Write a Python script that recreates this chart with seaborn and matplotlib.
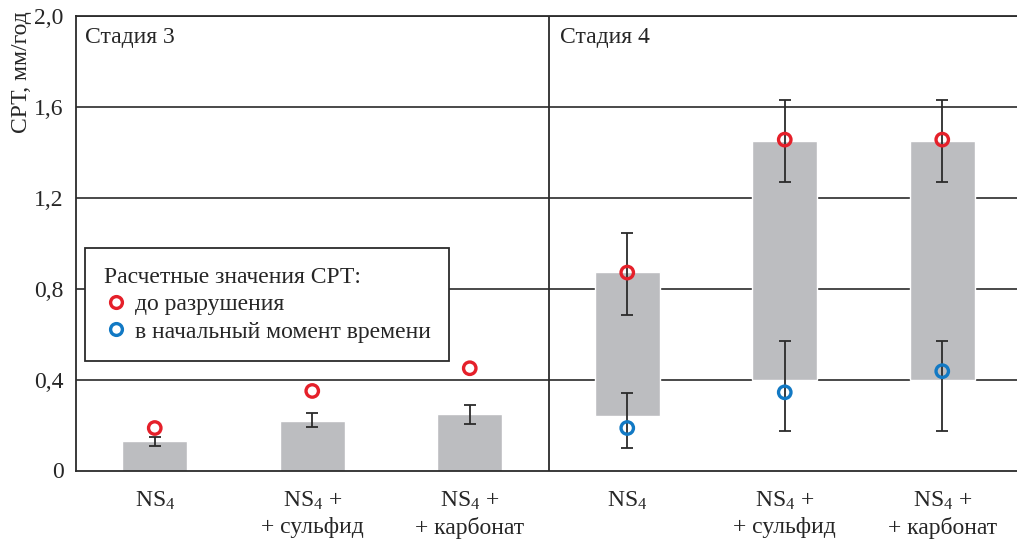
import numpy as np
import matplotlib
matplotlib.use("Agg")
import matplotlib.pyplot as plt
from matplotlib.lines import Line2D
import seaborn as sns

# categories (tick labels)
categorias = ["NS$_4$", "NS$_4$ +\n+ сульфид", "NS$_4$ +\n+ карбонат",
              "NS$_4$", "NS$_4$ +\n+ сульфид", "NS$_4$ +\n+ карбонат"]
estagios = ["Стадия 3", "Стадия 4"]

# bars: bottom and top (mm/year)
barra_base = [0, 0, 0, 0.24, 0.40, 0.40]
barra_topo = [0.13, 0.22, 0.247, 0.874, 1.448, 1.448]
# error bars of stage-3 bars
erro3_sup = [0.147, 0.255, 0.29]
erro3_inf = [0.106, 0.19, 0.206]

# calculated values: before failure (red) and at start (blue)
vermelho = [0.187, 0.35, 0.45, 0.871, 1.456, 1.456]
verm_sup = [np.nan, np.nan, np.nan, 1.046, 1.63, 1.63]
verm_inf = [np.nan, np.nan, np.nan, 0.686, 1.268, 1.268]
azul_x = [3, 4, 5]
azul = [0.187, 0.344, 0.437]
azul_sup = [0.341, 0.571, 0.571]
azul_inf = [0.098, 0.172, 0.172]

sns.set_style("white")
plt.rcParams['font.family'] = ['Liberation Serif', 'DejaVu Serif']
plt.rcParams['mathtext.fontset'] = 'custom'
plt.rcParams['mathtext.rm'] = 'Liberation Serif'
plt.rcParams['mathtext.it'] = 'Liberation Serif'

cinza = '#bcbdc0'
escuro = '#2b2b2b'
cor_verm = '#e5202a'
cor_azul = '#1279c4'
fs = 17

fig = plt.figure(figsize=(10.17, 5.45), dpi=100)
ax = fig.add_axes([76/1017, 1 - 470.5/545, 945/1017, 454.5/545])

x = np.arange(len(categorias))
altura = np.array(barra_topo) - np.array(barra_base)

# gridlines
for v in [0.4, 0.8, 1.2, 1.6, 2.0]:
    ax.axhline(v, color='#3a3a3a', lw=1.3, zorder=0)
ax.axvline(2.5, color=escuro, lw=1.3, zorder=0)

ax.bar(x, altura, bottom=barra_base, width=0.41, color=cinza, zorder=1)

# error bars
x3 = x[:3]
b3 = np.array(barra_topo[:3])
ax.errorbar(x3, b3, yerr=[b3 - np.array(erro3_inf), np.array(erro3_sup) - b3],
            fmt='none', ecolor=escuro, elinewidth=1.3, capsize=4.5, capthick=1.3, zorder=2)
vv = np.array(vermelho[3:])
ax.errorbar(x[3:], vv, yerr=[vv - np.array(verm_inf[3:]), np.array(verm_sup[3:]) - vv],
            fmt='none', ecolor=escuro, elinewidth=1.3, capsize=4.5, capthick=1.3, zorder=2)
aa = np.array(azul)
ax.errorbar(azul_x, aa, yerr=[aa - np.array(azul_inf), np.array(azul_sup) - aa],
            fmt='none', ecolor=escuro, elinewidth=1.3, capsize=4.5, capthick=1.3, zorder=2)

sns.scatterplot(x=x, y=vermelho, ax=ax, marker='o', s=80, facecolor='none',
                edgecolor=cor_verm, linewidth=2.4, zorder=3)
sns.scatterplot(x=azul_x, y=azul, ax=ax, marker='o', s=80, facecolor='none',
                edgecolor=cor_azul, linewidth=2.4, zorder=3)

ax.set_xlim(-0.5, 5.5)
ax.set_ylim(0, 2.0)
ax.set_yticks([0, 0.4, 0.8, 1.2, 1.6, 2.0])
ax.set_yticklabels(["0", "0,4", "0,8", "1,2", "1,6", "2,0"], fontsize=fs)
ax.set_xticks(x)
ax.set_xticklabels(categorias, fontsize=fs, va='top', linespacing=1.3)
ax.tick_params(axis='x', which='major', length=0, pad=14)
ax.set_xticks([0.5, 1.5, 3.5, 4.5], minor=True)
ax.tick_params(axis='x', which='minor', length=9, width=1.3, color=escuro, direction='out')
ax.tick_params(axis='y', length=5, width=1.3, color=escuro, direction='out', pad=4)

for lado in ['left', 'bottom', 'top']:
    ax.spines[lado].set_color(escuro)
    ax.spines[lado].set_linewidth(1.3)
ax.spines['right'].set_visible(False)

ax.set_ylabel("СРТ, мм/год", fontsize=fs, loc='top')
ax.yaxis.set_label_coords(-0.047, 1.01)

ax.text(0.0095, 0.952, estagios[0], transform=ax.transAxes, fontsize=fs, va='center', ha='left')
ax.text(0.5 + 0.012, 0.952, estagios[1], transform=ax.transAxes, fontsize=fs, va='center', ha='left')

handles = [Line2D([], [], marker='o', ls='none', mfc='none', mec=cor_verm, mew=2.4, ms=8.5),
           Line2D([], [], marker='o', ls='none', mfc='none', mec=cor_azul, mew=2.4, ms=8.5)]
leg = ax.legend(handles, ["до разрушения", "в начальный момент времени"],
                title="Расчетные значения СРТ:", title_fontsize=fs, fontsize=fs,
                loc='upper left', bbox_to_anchor=(0.0095, 0.49), borderaxespad=0,
                fancybox=False, edgecolor=escuro, framealpha=1, handletextpad=0.3,
                handlelength=1.0, labelspacing=0.25, borderpad=0.8)
leg._legend_box.align = "left"
leg.get_frame().set_linewidth(1.3)

fig.savefig("out.png", dpi=100)
